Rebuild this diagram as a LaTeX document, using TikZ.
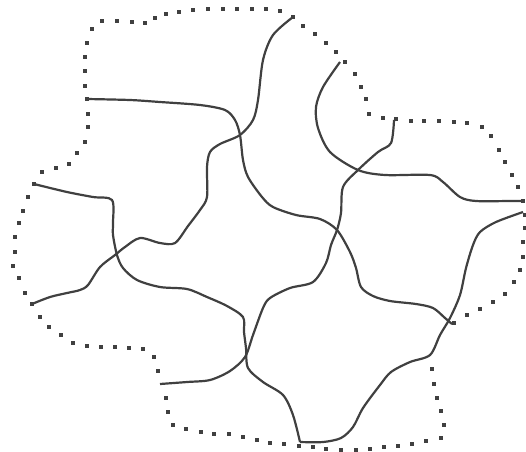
\documentclass[tikz,border=0pt]{standalone}
\usepackage{tikz}
\usepackage{xcolor}
\tikzset{
  crack/.style={black!75, line width=2.2pt, smooth, tension=0.5},
}

\begin{document}
\begin{tikzpicture}[x=1pt, y=-1pt]
  \useasboundingbox (0,0) rectangle (526,451);
  % Dotted boundary
  \foreach \x/\y in {102/21, 117/21, 132/22, 145/23, 155/18, 166/14, 179/12, 193/10,
                      208/9, 223/9, 237/9, 252/9, 266/9, 280/11, 293/17, 303/26,
                      315/34, 326/43, 336/52, 345/62, 355/74, 361/87, 366/99, 369/114,
                      383/118, 396/119, 411/121, 424/121, 439/121, 454/122, 467/123,
                      482/127, 491/136, 499/150, 505/162, 512/175, 518/187, 523/201,
                      525/215, 525/228, 523/242, 523/257, 520/270, 514/282, 505/294,
                      493/302, 480/309, 467/315, 454/323,
                      432/369, 434/384, 437/398, 441/411, 444/425, 441/438, 426/441,
                      412/444, 398/446, 384/447, 370/449, 356/450, 341/450, 326/449,
                      313/447, 299/446, 284/444, 270/443, 257/440, 243/437, 229/434,
                      214/434, 201/432, 186/429, 173/425, 168/412, 166/398, 158/371,
                      154/357, 143/349, 129/348, 115/347, 101/347, 87/346, 73/343,
                      61/335, 49/327, 40/317, 32/304, 25/293, 19/278, 13/266, 15/252,
                      15/237, 19/223, 23/211, 28/197, 34/184, 42/172, 56/168, 69/164,
                      77/153, 85/142, 88/127, 88/114, 87/99, 85/86, 85/71, 85/57,
                      87/43, 92/29}
    \fill[black!75] (\x-2,\y-2) rectangle (\x+2,\y+2);
  % Long curve from the upper left to the lower right
  \draw[crack] plot coordinates {(87,99) (130,100) (160,102) (200,105) (225,110) (235,120)
    (240,135) (243,160) (248,177) (262,197) (273,207) (296,215) (320,219) (337,230)
    (350,252) (356,268) (361,287) (373,296) (390,301) (416,304) (433,308) (445,318) (452,324)};
  % Curve from the top to the lower left
  \draw[crack] plot coordinates {(293,17) (273,35) (263,60) (258,100) (253,120) (240,135)
    (220,144) (210,152) (207,167) (207,197) (200,210) (188,226) (175,243) (160,243)
    (140,238) (125,247) (115,255) (100,267) (88,285) (80,290) (67,293) (50,297) (32,304)};
  % Curve from the left to the bottom
  \draw[crack] plot coordinates {(34,184) (67,192) (93,197) (112,200) (113,223) (113,235)
    (117,255) (123,268) (137,280) (160,287) (187,289) (207,297) (227,306) (243,317)
    (244,332) (246,348) (248,368) (263,382) (283,395) (293,415) (300,442)};
  % Curve from the bottom to the right
  \draw[crack] plot coordinates {(300,442) (323,442) (341,438) (353,427) (363,408) (380,385)
    (391,372) (410,362) (430,355) (440,335) (450,318) (460,295) (466,268) (473,245)
    (480,232) (496,222) (523,212)};
  % Curve from the lower left to the upper right
  \draw[crack] plot coordinates {(160,384) (187,382) (210,380) (230,371) (245,357) (253,335)
    (263,308) (270,298) (290,288) (313,282) (326,263) (331,245) (337,230) (341,213)
    (343,187) (358,170) (378,152) (391,143) (394,120)};
  % Curve through the upper right
  \draw[crack] plot coordinates {(340,62) (323,87) (316,107) (318,128) (330,152)
    (358,170) (385,175) (430,175) (443,182) (460,197) (476,201) (510,201) (523,201)};
\end{tikzpicture}
\end{document}
